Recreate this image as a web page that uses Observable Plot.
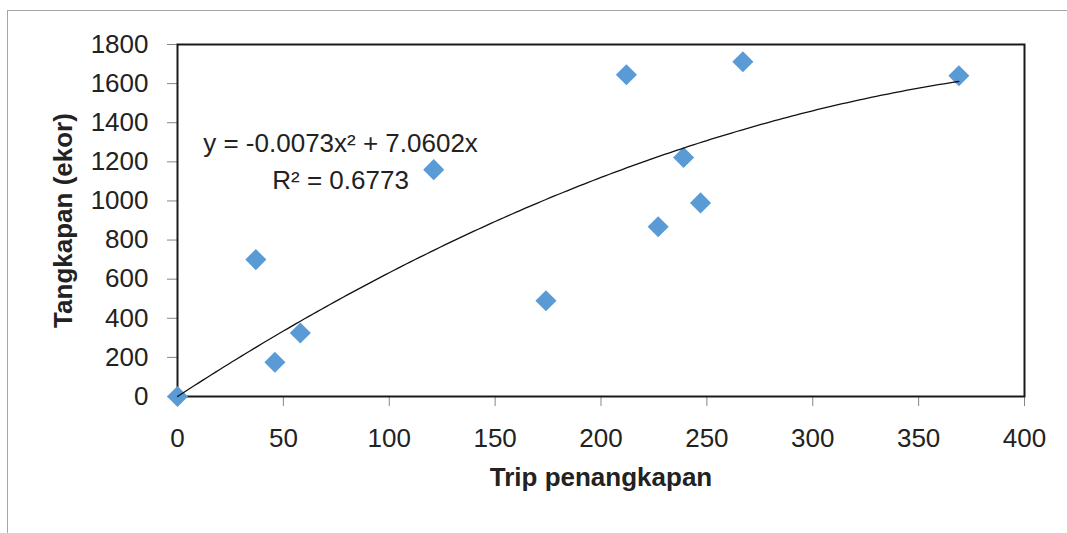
<!DOCTYPE html>
<html><head><meta charset="utf-8">
<script src="https://cdn.jsdelivr.net/npm/d3@7"></script>
<script src="https://cdn.jsdelivr.net/npm/@observablehq/plot@0.6"></script>
<style>
body{margin:0;background:#fff;}
#wrap{position:relative;width:1067px;height:533px;overflow:hidden;}
#border{position:absolute;left:7px;top:10px;right:-5px;bottom:-5px;border-top:1.5px solid #a6a6a6;border-left:1.5px solid #a6a6a6;pointer-events:none;}
#wrap svg{position:absolute;left:0;top:0;font-family:"Liberation Sans",Arial,sans-serif;}
g[aria-label="x-axis label"] text, g[aria-label="y-axis label"] text{font-weight:bold;}
</style></head><body><div id="wrap"><div id="border"></div></div>
<script>
const trips   = [0, 37, 46, 58, 121, 174, 212, 227, 239, 247, 267, 369];
const catches = [0, 700, 175, 325, 1160, 490, 1645, 868, 1222, 990, 1712, 1640];
const xTicks = [0, 50, 100, 150, 200, 250, 300, 350, 400];
const yTicks = [0, 200, 400, 600, 800, 1000, 1200, 1400, 1600, 1800];
const trendCoef = [-0.0073, 7.0602]; // y = a*x^2 + b*x
const eqText = ["y = -0.0073x\u00B2 + 7.0602x", "R\u00B2 = 0.6773"];
const eqX = [77, 77];
const eqY = [1294, 1104];

const points = trips.map((t, i) => ({x: t, y: catches[i]}));
const xMax = d3.max(trips);
const trend = d3.range(0, xMax, 2).concat([xMax]).map(x => ({x, y: trendCoef[0]*x*x + trendCoef[1]*x}));
const labels = eqText.map((t, i) => ({text: t, x: eqX[i], y: eqY[i]}));

const chart = Plot.plot({
  width: 1067, height: 533,
  marginLeft: 177, marginRight: 43, marginTop: 44, marginBottom: 137,
  style: {fontFamily: '"Liberation Sans", Arial, sans-serif', fontSize: "26px", color: "#222", background: "transparent"},
  x: {domain: [0, 400]},
  y: {domain: [0, 1800]},
  marks: [
    Plot.axisX({ticks: xTicks, tickSize: 10, tickPadding: 22, stroke: "#868686", fill: "#222", fontSize: 26,
      label: "Trip penangkapan", labelAnchor: "center", labelOffset: 89, labelArrow: "none", tickFormat: d => String(d)}),
    Plot.axisY({ticks: yTicks, tickSize: 10, tickPadding: 19, stroke: "#868686", fill: "#222", fontSize: 26,
      label: "Tangkapan (ekor)", labelAnchor: "center", labelOffset: 124, labelArrow: "none", tickFormat: d => String(d)}),
    Plot.frame({stroke: "#1a1a1a", strokeWidth: 2}),
    Plot.dot(points, {x: "x", y: "y", symbol: "diamond2", r: 9.5, fill: "#5B9BD5", stroke: "none"}),
    Plot.line(trend, {x: "x", y: "y", stroke: "#111", strokeWidth: 1.3, curve: "linear"}),
    Plot.text(labels, {x: "x", y: "y", text: "text", fontSize: 26, fill: "#222", textAnchor: "middle"})
  ]
});
document.getElementById("wrap").appendChild(chart);
</script>
</body></html>
